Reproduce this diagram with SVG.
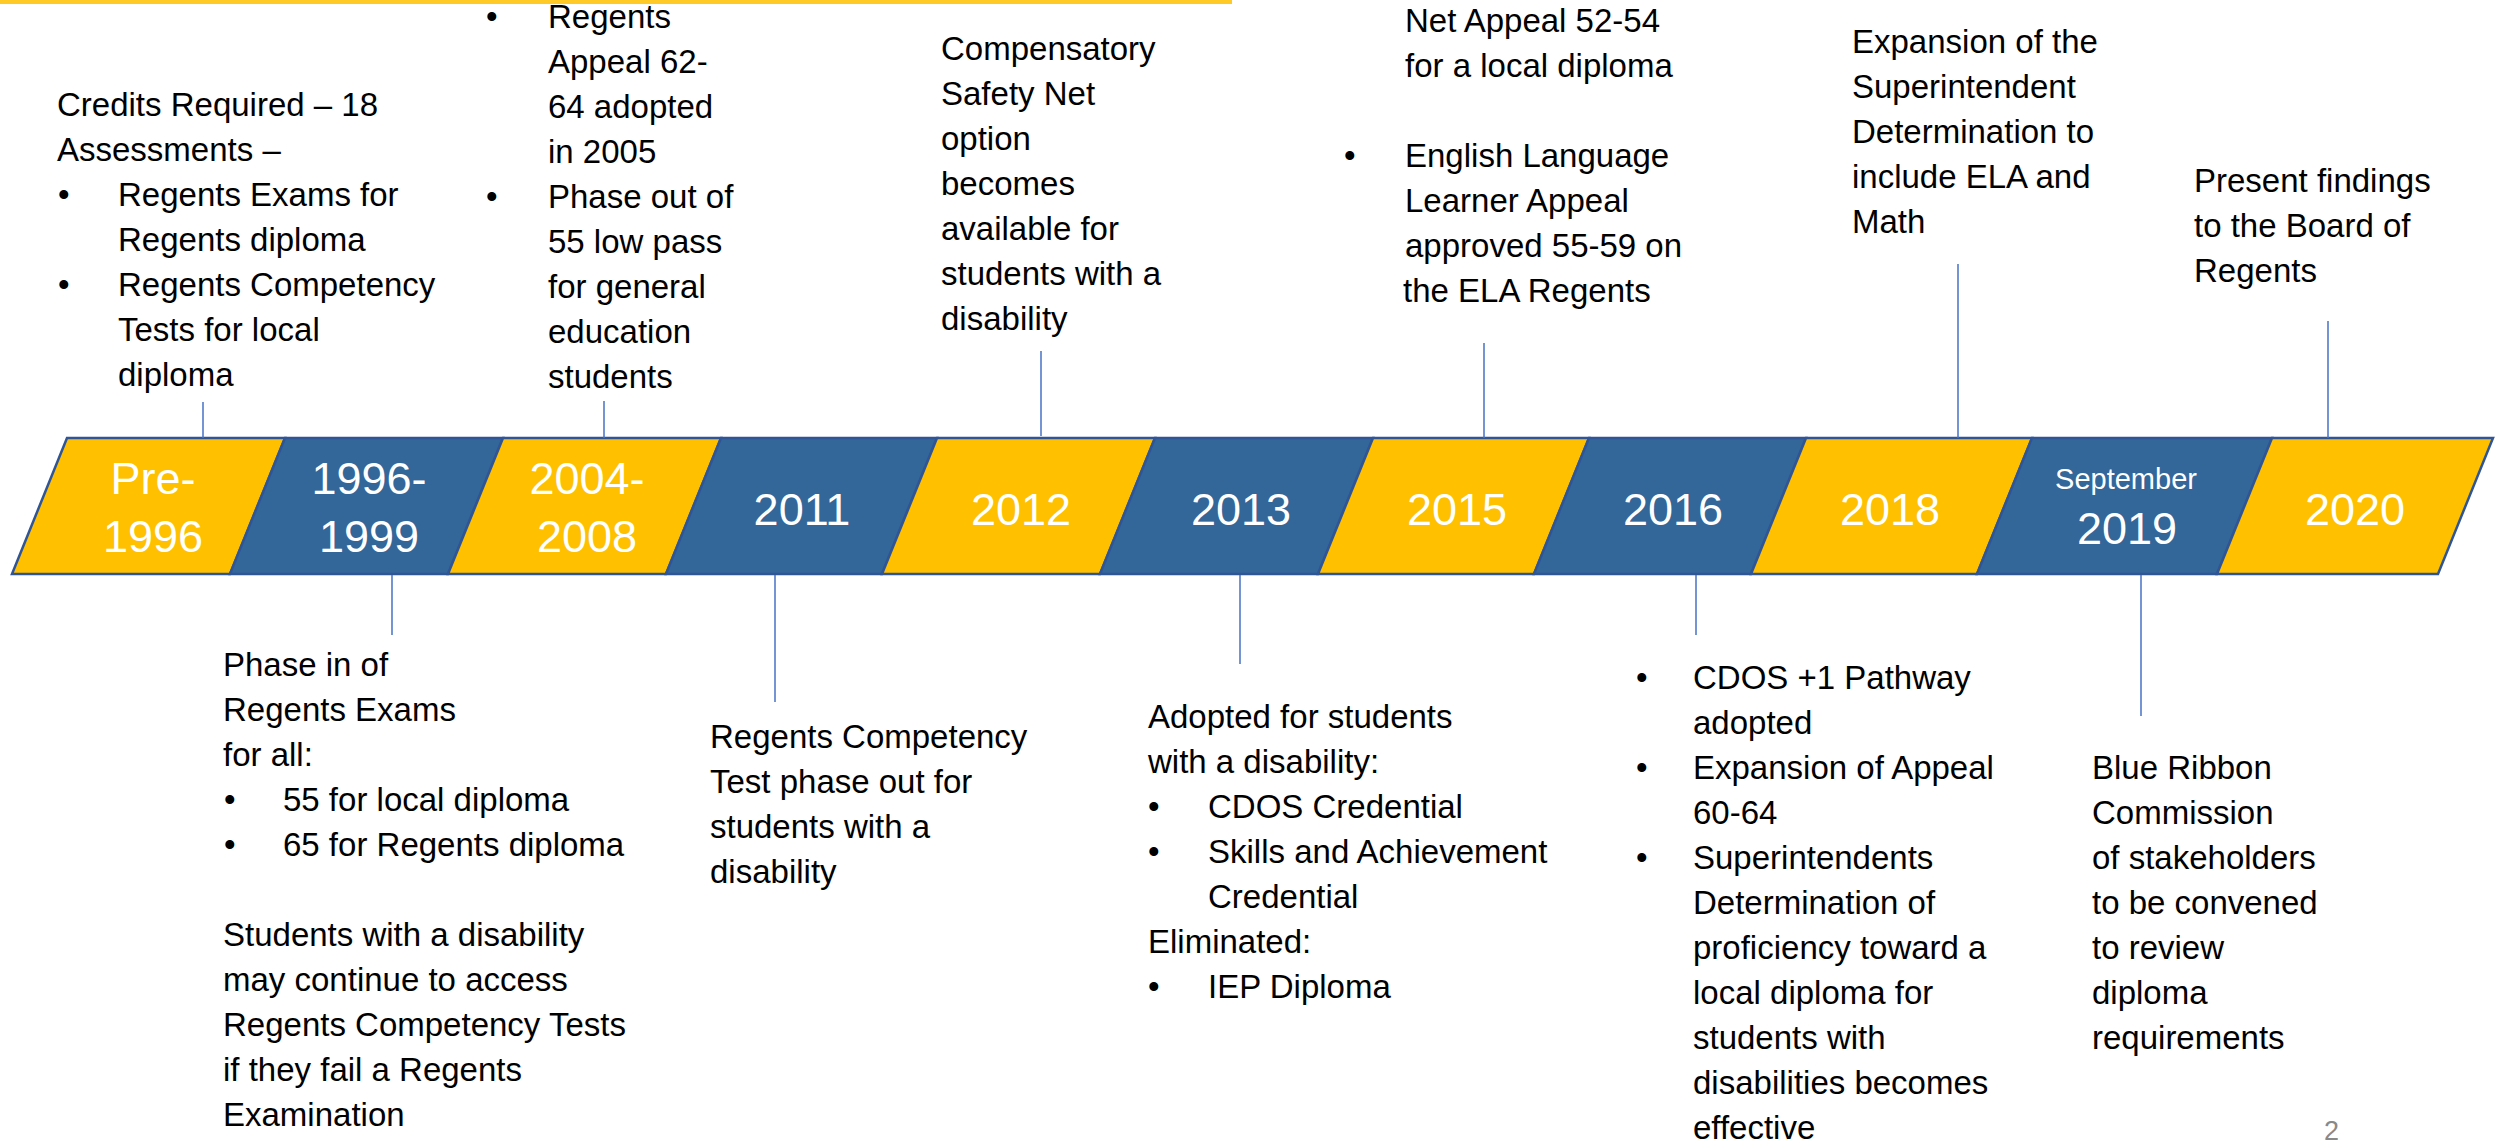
<svg xmlns="http://www.w3.org/2000/svg" width="2496" height="1146" viewBox="0 0 2496 1146">
<style>
.t{font-family:"Liberation Sans",Arial,sans-serif;font-size:33px;fill:#000}
.yr{font-family:"Liberation Sans",Arial,sans-serif;font-size:45px;fill:#fff;text-anchor:middle}
.sm{font-size:29px}
.y{fill:#FFC000;stroke:#2F5597;stroke-width:2.5}
.b{fill:#336699;stroke:#2F5597;stroke-width:2.5}
.c{stroke:#4472C4;stroke-width:1.5;fill:none}
.pg{font-family:"Liberation Sans",Arial,sans-serif;font-size:27px;fill:#898989}
</style>
<rect x="0" y="0" width="1232" height="4" fill="#FFC926"/>
<g id="band">
<g id="seg-pre1996"><polygon class="y" points="67,438 285,438 230,574 12,574"/><text class="yr"><tspan x="153" y="494">Pre-</tspan><tspan x="153" y="552">1996</tspan></text></g>
<g id="seg-1996"><polygon class="b" points="285,438 503,438 448,574 230,574"/><text class="yr"><tspan x="369" y="494">1996-</tspan><tspan x="369" y="552">1999</tspan></text></g>
<g id="seg-2004"><polygon class="y" points="503,438 721,438 666,574 448,574"/><text class="yr"><tspan x="587" y="494">2004-</tspan><tspan x="587" y="552">2008</tspan></text></g>
<g id="seg-2011"><polygon class="b" points="721,438 937,438 882,574 666,574"/><text class="yr" x="802" y="525">2011</text></g>
<g id="seg-2012"><polygon class="y" points="937,438 1155,438 1100,574 882,574"/><text class="yr" x="1021" y="525">2012</text></g>
<g id="seg-2013"><polygon class="b" points="1155,438 1373,438 1318,574 1100,574"/><text class="yr" x="1241" y="525">2013</text></g>
<g id="seg-2015"><polygon class="y" points="1373,438 1589,438 1534,574 1318,574"/><text class="yr" x="1457" y="525">2015</text></g>
<g id="seg-2016"><polygon class="b" points="1589,438 1806,438 1751,574 1534,574"/><text class="yr" x="1673" y="525">2016</text></g>
<g id="seg-2018"><polygon class="y" points="1806,438 2032,438 1977,574 1751,574"/><text class="yr" x="1890" y="525">2018</text></g>
<g id="seg-2019"><polygon class="b" points="2032,438 2272,438 2217,574 1977,574"/><text class="yr"><tspan class="sm" x="2126" y="489">September</tspan><tspan x="2127" y="544">2019</tspan></text></g>
<g id="seg-2020"><polygon class="y" points="2272,438 2493,438 2438,574 2217,574"/><text class="yr" x="2355" y="525">2020</text></g>
</g>
<g id="connectors">
<line class="c" x1="203" y1="402" x2="203" y2="438"/>
<line class="c" x1="604" y1="401" x2="604" y2="438"/>
<line class="c" x1="1041" y1="351" x2="1041" y2="436"/>
<line class="c" x1="1484" y1="343" x2="1484" y2="438"/>
<line class="c" x1="1958" y1="264" x2="1958" y2="438"/>
<line class="c" x1="2328" y1="321" x2="2328" y2="438"/>
<line class="c" x1="392" y1="575" x2="392" y2="635"/>
<line class="c" x1="775" y1="575" x2="775" y2="702"/>
<line class="c" x1="1240" y1="575" x2="1240" y2="664"/>
<line class="c" x1="1696" y1="575" x2="1696" y2="635"/>
<line class="c" x1="2141" y1="575" x2="2141" y2="716"/>
</g>
<g id="note-pre1996">
<text class="t"><tspan x="57" y="116">Credits Required – 18</tspan><tspan x="57" y="161">Assessments –</tspan><tspan x="58" y="206">•</tspan><tspan x="118" y="206">Regents Exams for</tspan><tspan x="118" y="251">Regents diploma</tspan><tspan x="58" y="296">•</tspan><tspan x="118" y="296">Regents Competency</tspan><tspan x="118" y="341">Tests for local</tspan><tspan x="118" y="386">diploma</tspan></text>
</g>
<g id="note-2004">
<text class="t"><tspan x="486" y="28">•</tspan><tspan x="548" y="28">Regents</tspan><tspan x="548" y="73">Appeal 62-</tspan><tspan x="548" y="118">64 adopted</tspan><tspan x="548" y="163">in 2005</tspan><tspan x="486" y="208">•</tspan><tspan x="548" y="208">Phase out of</tspan><tspan x="548" y="253">55 low pass</tspan><tspan x="548" y="298">for general</tspan><tspan x="548" y="343">education</tspan><tspan x="548" y="388">students</tspan></text>
</g>
<g id="note-2012">
<text class="t"><tspan x="941" y="60">Compensatory</tspan><tspan x="941" y="105">Safety Net</tspan><tspan x="941" y="150">option</tspan><tspan x="941" y="195">becomes</tspan><tspan x="941" y="240">available for</tspan><tspan x="941" y="285">students with a</tspan><tspan x="941" y="330">disability</tspan></text>
</g>
<g id="note-2015">
<text class="t"><tspan x="1405" y="32">Net Appeal 52-54</tspan><tspan x="1405" y="77">for a local diploma</tspan><tspan x="1344" y="167">•</tspan><tspan x="1405" y="167">English Language</tspan><tspan x="1405" y="212">Learner Appeal</tspan><tspan x="1405" y="257">approved 55-59 on</tspan><tspan x="1403" y="302">the ELA Regents</tspan></text>
</g>
<g id="note-2018">
<text class="t"><tspan x="1852" y="53">Expansion of the</tspan><tspan x="1852" y="98">Superintendent</tspan><tspan x="1852" y="143">Determination to</tspan><tspan x="1852" y="188">include ELA and</tspan><tspan x="1852" y="233">Math</tspan></text>
</g>
<g id="note-2020">
<text class="t"><tspan x="2194" y="192">Present findings</tspan><tspan x="2194" y="237">to the Board of</tspan><tspan x="2194" y="282">Regents</tspan></text>
</g>
<g id="note-1996">
<text class="t"><tspan x="223" y="676">Phase in of</tspan><tspan x="223" y="721">Regents Exams</tspan><tspan x="223" y="766">for all:</tspan><tspan x="224" y="811">•</tspan><tspan x="283" y="811">55 for local diploma</tspan><tspan x="224" y="856">•</tspan><tspan x="283" y="856">65 for Regents diploma</tspan><tspan x="223" y="946">Students with a disability</tspan><tspan x="223" y="991">may continue to access</tspan><tspan x="223" y="1036">Regents Competency Tests</tspan><tspan x="223" y="1081">if they fail a Regents</tspan><tspan x="223" y="1126">Examination</tspan></text>
</g>
<g id="note-2011">
<text class="t"><tspan x="710" y="748">Regents Competency</tspan><tspan x="710" y="793">Test phase out for</tspan><tspan x="710" y="838">students with a</tspan><tspan x="710" y="883">disability</tspan></text>
</g>
<g id="note-2013">
<text class="t"><tspan x="1148" y="728">Adopted for students</tspan><tspan x="1148" y="773">with a disability:</tspan><tspan x="1148" y="818">•</tspan><tspan x="1208" y="818">CDOS Credential</tspan><tspan x="1148" y="863">•</tspan><tspan x="1208" y="863">Skills and Achievement</tspan><tspan x="1208" y="908">Credential</tspan><tspan x="1148" y="953">Eliminated:</tspan><tspan x="1148" y="998">•</tspan><tspan x="1208" y="998">IEP Diploma</tspan></text>
</g>
<g id="note-2016">
<text class="t"><tspan x="1636" y="689">•</tspan><tspan x="1693" y="689">CDOS +1 Pathway</tspan><tspan x="1693" y="734">adopted</tspan><tspan x="1636" y="779">•</tspan><tspan x="1693" y="779">Expansion of Appeal</tspan><tspan x="1693" y="824">60-64</tspan><tspan x="1636" y="869">•</tspan><tspan x="1693" y="869">Superintendents</tspan><tspan x="1693" y="914">Determination of</tspan><tspan x="1693" y="959">proficiency toward a</tspan><tspan x="1693" y="1004">local diploma for</tspan><tspan x="1693" y="1049">students with</tspan><tspan x="1693" y="1094">disabilities becomes</tspan><tspan x="1693" y="1139">effective</tspan></text>
</g>
<g id="note-2019">
<text class="t"><tspan x="2092" y="779">Blue Ribbon</tspan><tspan x="2092" y="824">Commission</tspan><tspan x="2092" y="869">of stakeholders</tspan><tspan x="2092" y="914">to be convened</tspan><tspan x="2092" y="959">to review</tspan><tspan x="2092" y="1004">diploma</tspan><tspan x="2092" y="1049">requirements</tspan></text>
</g>
<text class="pg" x="2324" y="1140">2</text>
</svg>
